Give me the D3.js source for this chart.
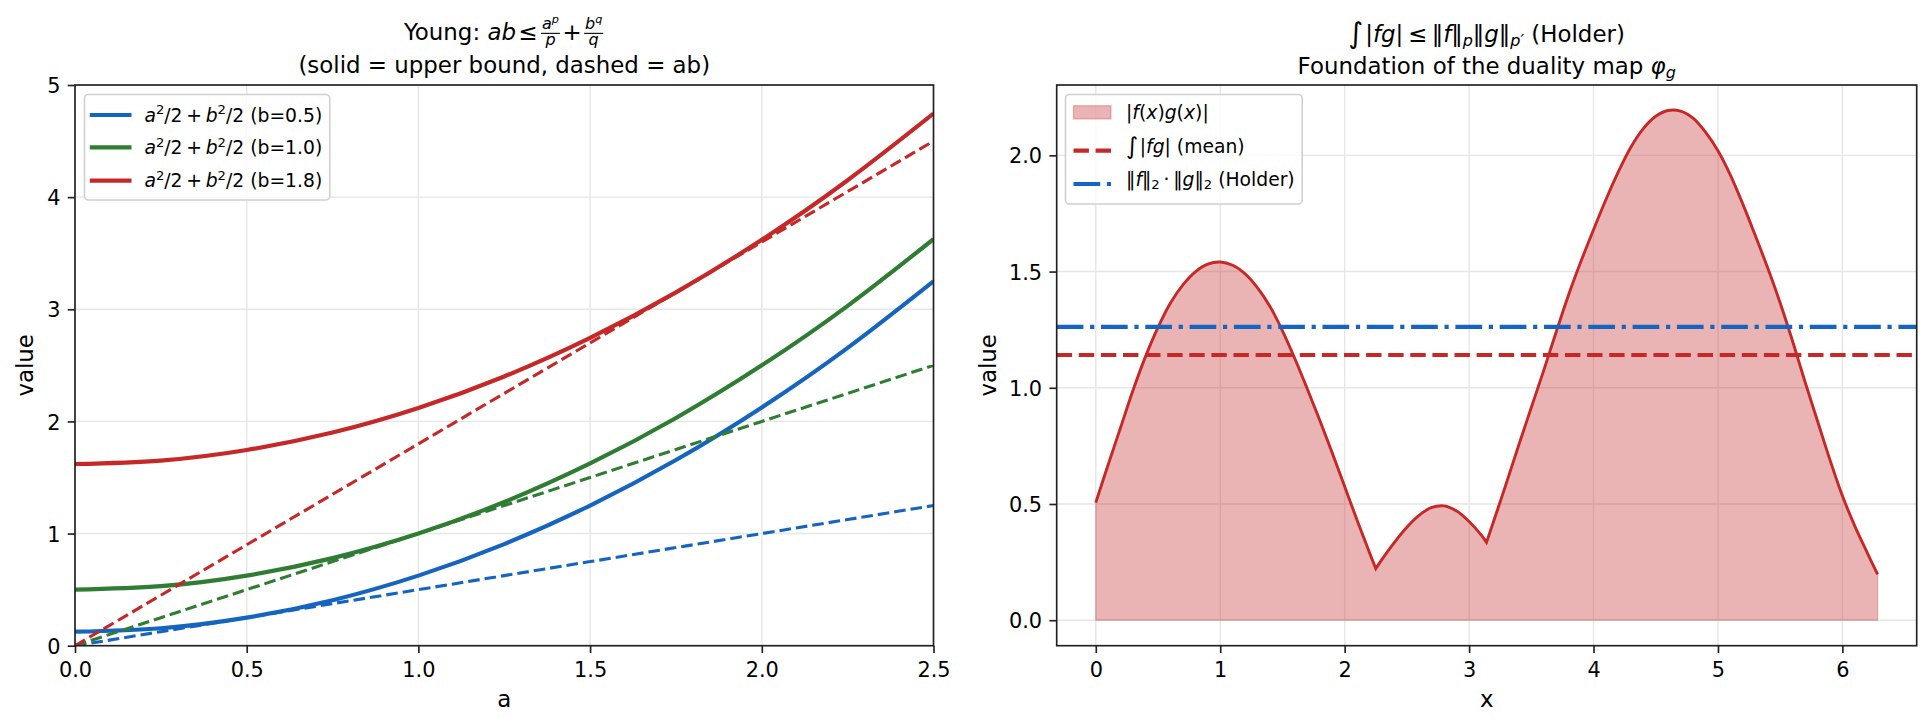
<!DOCTYPE html>
<html>
<head>
<meta charset="utf-8">
<script src="https://cdn.jsdelivr.net/npm/d3@7"></script>
<style>
  body { margin: 0; background: #fff; }
  svg { font-family: "DejaVu Sans", sans-serif; }
  svg text { white-space: pre; }
</style>
</head>
<body>
<svg id="chart"></svg>
<script>
// colors
const blue = '#1565c0';
const green = '#2e7d32';
const red = '#c62828';
const gridColor = '#e6e6e6';
const spineColor = '#222';

// ---- Young panel data ----
const aVals = [0, 0.25, 0.5, 0.75, 1.0, 1.25, 1.5, 1.75, 2.0, 2.25, 2.5];
const bLabels = ['0.5', '1.0', '1.8'];
const boundB05 = [0.125, 0.156, 0.25, 0.406, 0.625, 0.906, 1.25, 1.656, 2.125, 2.656, 3.25];
const boundB10 = [0.5, 0.531, 0.625, 0.781, 1.0, 1.281, 1.625, 2.031, 2.5, 3.031, 3.625];
const boundB18 = [1.62, 1.651, 1.745, 1.901, 2.12, 2.401, 2.745, 3.151, 3.62, 4.151, 4.745];
const abB05 = [0, 0.125, 0.25, 0.375, 0.5, 0.625, 0.75, 0.875, 1.0, 1.125, 1.25];
const abB10 = [0, 0.25, 0.5, 0.75, 1.0, 1.25, 1.5, 1.75, 2.0, 2.25, 2.5];
const abB18 = [0, 0.45, 0.9, 1.35, 1.8, 2.25, 2.7, 3.15, 3.6, 4.05, 4.5];
const youngXTicks = [0, 0.5, 1.0, 1.5, 2.0, 2.5];
const youngYTicks = [0, 1, 2, 3, 4, 5];

// ---- Holder panel data ----
const holderX = [0, 0.1, 0.2, 0.3, 0.4, 0.5, 0.6, 0.7, 0.8, 0.9, 1.0, 1.1, 1.2, 1.3, 1.4, 1.5,
  1.6, 1.7, 1.8, 1.9, 2.0, 2.1, 2.2, 2.25,
  2.3, 2.4, 2.5, 2.6, 2.7, 2.8, 2.9, 3.0, 3.1, 3.14,
  3.2, 3.3, 3.4, 3.5, 3.6, 3.7, 3.8, 3.9, 4.0, 4.1, 4.2, 4.3, 4.4, 4.5, 4.6, 4.7, 4.8, 4.9,
  5.0, 5.1, 5.2, 5.3, 5.4, 5.5, 5.6, 5.7, 5.8, 5.9, 6.0, 6.1, 6.2, 6.283];
const holderFG = [0.506, 0.67, 0.83, 0.99, 1.135, 1.26, 1.365, 1.443, 1.499, 1.532, 1.541, 1.527, 1.49, 1.43, 1.35, 1.245,
  1.125, 0.995, 0.86, 0.72, 0.575, 0.43, 0.29, 0.222,
  0.262, 0.335, 0.40, 0.452, 0.485, 0.492, 0.47, 0.425, 0.365, 0.335,
  0.43, 0.59, 0.755, 0.915, 1.075, 1.24, 1.40, 1.545, 1.68, 1.81, 1.93, 2.035, 2.115, 2.168, 2.193, 2.19, 2.16, 2.10,
  2.02, 1.915, 1.79, 1.655, 1.515, 1.365, 1.20, 1.025, 0.857, 0.69, 0.535, 0.405, 0.29, 0.197];
const holderCusps = [2.25, 3.14];
const meanFG = 1.141;
const holderBound = 1.262;
const holderXTicks = [0, 1, 2, 3, 4, 5, 6];
const holderYTicks = [0, 0.5, 1.0, 1.5, 2.0];

// sizes (150 dpi figure)
const titleFs = 22.9;
const tickFs = 20.83;
const legFs = 18.75;

const width = 1931;
const height = 728;
const svg = d3.select('#chart').attr('width', width).attr('height', height);

const boxL = { x0: 75, x1: 933.5, y0: 85, y1: 645.7 };
const boxR = { x0: 1056.7, x1: 1916.7, y0: 85, y1: 645.7 };

// ---- small math-text helpers ----
function layout(g, x, y, items, fs) {
  let cx = x;
  for (const it of items) {
    if (it.gap != null) { cx += it.gap * fs; continue; }
    if (it.frac) { cx = fracBox(g, cx, y, it.frac[0], it.frac[1], fs); continue; }
    const t = g.append('text')
      .attr('x', cx).attr('y', y + (it.dy || 0) * fs)
      .attr('font-size', fs * (it.s || 1))
      .attr('fill', '#000')
      .text(it.t);
    if (it.i) t.attr('font-style', 'italic');
    cx += t.node().getComputedTextLength();
  }
  return cx;
}
function fracBox(g, x, y, num, den, fs) {
  const sub = fs * 0.7;
  const ng = g.append('g'), dg = g.append('g');
  const nw = layout(ng, 0, 0, num, sub);
  const dw = layout(dg, 0, 0, den, sub);
  const w = Math.max(nw, dw) + 0.2 * fs;
  ng.attr('transform', `translate(${x + (w - nw) / 2},${y - 0.46 * fs})`);
  dg.attr('transform', `translate(${x + (w - dw) / 2},${y + 0.24 * fs})`);
  g.append('line')
    .attr('x1', x + 0.06 * fs).attr('x2', x + w - 0.06 * fs)
    .attr('y1', y - 0.29 * fs).attr('y2', y - 0.29 * fs)
    .attr('stroke', '#000').attr('stroke-width', 1.1);
  return x + w;
}
function mathCentered(cx, y, items, fs) {
  const g = svg.append('g');
  const end = layout(g, 0, y, items, fs);
  g.attr('transform', `translate(${cx - end / 2},0)`);
}

// ---- axes helper ----
function grid(box, x, y, xt, yt) {
  const g = svg.append('g');
  g.selectAll('.gx').data(xt).join('line')
    .attr('x1', d => x(d)).attr('x2', d => x(d))
    .attr('y1', box.y0).attr('y2', box.y1)
    .attr('stroke', gridColor).attr('stroke-width', 1.4);
  g.selectAll('.gy').data(yt).join('line')
    .attr('x1', box.x0).attr('x2', box.x1)
    .attr('y1', d => y(d)).attr('y2', d => y(d))
    .attr('stroke', gridColor).attr('stroke-width', 1.4);
}
function axes(box, x, y, xt, yt, xf, yf) {
  const gx = svg.append('g')
    .attr('transform', `translate(0,${box.y1})`)
    .call(d3.axisBottom(x).tickValues(xt).tickFormat(xf).tickSize(7.3).tickPadding(9.2));
  const gy = svg.append('g')
    .attr('transform', `translate(${box.x0},0)`)
    .call(d3.axisLeft(y).tickValues(yt).tickFormat(yf).tickSize(7.3).tickPadding(7.3));
  [gx, gy].forEach(g => {
    g.select('.domain').remove();
    g.attr('font-family', null).attr('font-size', null);
    g.selectAll('line').attr('stroke', spineColor).attr('stroke-width', 1.67);
    g.selectAll('text').attr('font-size', tickFs).attr('fill', '#000');
  });
  gy.selectAll('text').attr('dy', '0.365em');
  svg.append('rect')
    .attr('x', box.x0).attr('y', box.y0)
    .attr('width', box.x1 - box.x0).attr('height', box.y1 - box.y0)
    .attr('fill', 'none').attr('stroke', spineColor).attr('stroke-width', 1.67);
}

// =================== Left: Young ===================
const xL = d3.scaleLinear().domain([0, 2.5]).range([boxL.x0, boxL.x1]);
const yL = d3.scaleLinear().domain([0, 5]).range([boxL.y1, boxL.y0]);

grid(boxL, xL, yL, youngXTicks, youngYTicks);

svg.append('clipPath').attr('id', 'clipL').append('rect')
  .attr('x', boxL.x0).attr('y', boxL.y0)
  .attr('width', boxL.x1 - boxL.x0).attr('height', boxL.y1 - boxL.y0);

const lineL = d3.line().x(d => xL(d[0])).y(d => yL(d[1])).curve(d3.curveNatural);
const youngSeries = [
  { bound: boundB05, ab: abB05, color: blue },
  { bound: boundB10, ab: abB10, color: green },
  { bound: boundB18, ab: abB18, color: red }
];
const gL = svg.append('g').attr('clip-path', 'url(#clipL)');
youngSeries.forEach(s => {
  gL.append('path')
    .attr('d', lineL(aVals.map((a, i) => [a, s.bound[i]])))
    .attr('fill', 'none').attr('stroke', s.color).attr('stroke-width', 4.17);
  gL.append('path')
    .attr('d', lineL(aVals.map((a, i) => [a, s.ab[i]])))
    .attr('fill', 'none').attr('stroke', s.color).attr('stroke-width', 3.1)
    .attr('stroke-dasharray', '11.6,5');
});

axes(boxL, xL, yL, youngXTicks, youngYTicks, d3.format('.1f'), d3.format('d'));

// labels
svg.append('text').attr('x', (boxL.x0 + boxL.x1) / 2).attr('y', 707)
  .attr('text-anchor', 'middle').attr('font-size', titleFs).text('a');
svg.append('text').attr('transform', `translate(33.3,${(boxL.y0 + boxL.y1) / 2}) rotate(-90)`)
  .attr('text-anchor', 'middle').attr('font-size', titleFs).text('value');

mathCentered((boxL.x0 + boxL.x1) / 2, 40, [
  { t: 'Young: ' }, { t: 'ab', i: 1 }, { gap: 0.1 }, { t: '≤' }, { gap: 0.1 },
  { frac: [[{ t: 'a', i: 1 }, { t: 'p', i: 1, s: 0.7, dy: -0.42 }], [{ t: 'p', i: 1 }]] },
  { gap: 0.05 }, { t: '+' }, { gap: 0.05 },
  { frac: [[{ t: 'b', i: 1 }, { t: 'q', i: 1, s: 0.7, dy: -0.42 }], [{ t: 'q', i: 1 }]] }
], titleFs);
mathCentered((boxL.x0 + boxL.x1) / 2, 72.5, [{ t: '(solid = upper bound, dashed = ab)' }], titleFs);

// legend (left)
{
  const g = svg.append('g');
  const frame = g.append('rect');
  const rowY = [115, 147.3, 180.7];
  let maxEnd = 0;
  youngSeries.forEach((s, i) => {
    g.append('line').attr('x1', 91.9).attr('x2', 129.4)
      .attr('y1', rowY[i]).attr('y2', rowY[i])
      .attr('stroke', s.color).attr('stroke-width', 4.17).attr('stroke-linecap', 'square');
    const end = layout(g, 144.4, rowY[i] + 6.6, [
      { t: 'a', i: 1 }, { t: '2', s: 0.7, dy: -0.38 }, { t: '/2' }, { gap: 0.2 }, { t: '+' }, { gap: 0.2 },
      { t: 'b', i: 1 }, { t: '2', s: 0.7, dy: -0.38 }, { t: '/2' }, { t: ` (b=${bLabels[i]})` }
    ], legFs);
    maxEnd = Math.max(maxEnd, end);
  });
  frame.attr('x', 84.5).attr('y', 94.5).attr('width', maxEnd + 7.5 - 84.5).attr('height', 105.5)
    .attr('rx', 4).attr('fill', '#fff').attr('fill-opacity', 0.8)
    .attr('stroke', '#d0d0d0').attr('stroke-width', 1.6);
}

// =================== Right: Holder ===================
const xPad = 0.05 * (d3.max(holderX) - d3.min(holderX));
const yMax = d3.max(holderFG);
const xR = d3.scaleLinear().domain([d3.min(holderX) - xPad, d3.max(holderX) + xPad]).range([boxR.x0, boxR.x1]);
const yR = d3.scaleLinear().domain([-0.05 * yMax, 1.05 * yMax]).range([boxR.y1, boxR.y0]);

grid(boxR, xR, yR, holderXTicks, holderYTicks);

// split at the kinks so the cusps stay sharp
const pts = holderX.map((x, i) => [x, holderFG[i]]);
const segs = [];
let cur = [];
pts.forEach(p => {
  cur.push(p);
  if (holderCusps.includes(p[0])) { segs.push(cur); cur = [p]; }
});
segs.push(cur);
const lineR = d3.line().x(d => xR(d[0])).y(d => yR(d[1])).curve(d3.curveCatmullRom.alpha(0.5));
const topPath = segs.map((s, i) => i ? lineR(s).replace(/^M/, 'L') : lineR(s)).join('');
const first = pts[0], last = pts[pts.length - 1];

svg.append('path')
  .attr('d', topPath + `L${xR(last[0])},${yR(0)}L${xR(first[0])},${yR(0)}Z`)
  .attr('fill', red).attr('fill-opacity', 0.35)
  .attr('stroke', red).attr('stroke-opacity', 0.3).attr('stroke-width', 1.2);
svg.append('path').attr('d', topPath)
  .attr('fill', 'none').attr('stroke', red).attr('stroke-width', 2.9);

svg.append('line').attr('x1', boxR.x0).attr('x2', boxR.x1)
  .attr('y1', yR(meanFG)).attr('y2', yR(meanFG))
  .attr('stroke', red).attr('stroke-width', 4.17).attr('stroke-dasharray', '15.4,6.7');
svg.append('line').attr('x1', boxR.x0).attr('x2', boxR.x1)
  .attr('y1', yR(holderBound)).attr('y2', yR(holderBound))
  .attr('stroke', blue).attr('stroke-width', 4.17).attr('stroke-dasharray', '26.7,6.7,4.2,6.7');

axes(boxR, xR, yR, holderXTicks, holderYTicks, d3.format('d'), d3.format('.1f'));

svg.append('text').attr('x', (boxR.x0 + boxR.x1) / 2).attr('y', 707)
  .attr('text-anchor', 'middle').attr('font-size', titleFs).text('x');
svg.append('text').attr('transform', `translate(995.5,${(boxR.y0 + boxR.y1) / 2}) rotate(-90)`)
  .attr('text-anchor', 'middle').attr('font-size', titleFs).text('value');

mathCentered((boxR.x0 + boxR.x1) / 2, 41.5, [
  { t: '∫', s: 1.25, dy: 0.06 }, { gap: 0.08 }, { t: '|' }, { t: 'fg', i: 1 }, { t: '|' }, { gap: 0.2 }, { t: '≤' }, { gap: 0.2 },
  { t: '‖' }, { t: 'f', i: 1 }, { t: '‖' }, { t: 'p', i: 1, s: 0.7, dy: 0.18 },
  { t: '‖' }, { t: 'g', i: 1 }, { t: '‖' }, { t: 'p′', i: 1, s: 0.7, dy: 0.18 },
  { t: ' (Holder)' }
], titleFs);
mathCentered((boxR.x0 + boxR.x1) / 2, 73.5, [
  { t: 'Foundation of the duality map ' }, { t: 'φ', i: 1 }, { t: 'g', i: 1, s: 0.7, dy: 0.18 }
], titleFs);

// legend (right)
{
  const g = svg.append('g');
  const frame = g.append('rect');
  const hx0 = 1073.5, hx1 = 1111, tx = 1126;
  g.append('rect').attr('x', hx0).attr('y', 105.7).attr('width', hx1 - hx0).attr('height', 13.3)
    .attr('fill', red).attr('fill-opacity', 0.35)
    .attr('stroke', red).attr('stroke-opacity', 0.3).attr('stroke-width', 1.2);
  g.append('line').attr('x1', hx0).attr('x2', hx1).attr('y1', 150.7).attr('y2', 150.7)
    .attr('stroke', red).attr('stroke-width', 4.17).attr('stroke-dasharray', '15.4,6.7');
  g.append('line').attr('x1', hx0).attr('x2', hx1).attr('y1', 184).attr('y2', 184)
    .attr('stroke', blue).attr('stroke-width', 4.17).attr('stroke-dasharray', '26.7,6.7,4.2,6.7');
  const e1 = layout(g, tx, 118.5, [
    { t: '|' }, { t: 'f', i: 1 }, { t: '(' }, { t: 'x', i: 1 }, { t: ')' },
    { t: 'g', i: 1 }, { t: '(' }, { t: 'x', i: 1 }, { t: ')' }, { t: '|' }
  ], legFs);
  const e2 = layout(g, tx, 153.3, [
    { t: '∫', s: 1.25, dy: 0.06 }, { gap: 0.08 }, { t: '|' }, { t: 'fg', i: 1 }, { t: '|' }, { t: ' (mean)' }
  ], legFs);
  const e3 = layout(g, tx, 186, [
    { t: '‖' }, { t: 'f', i: 1 }, { t: '‖' }, { t: '2', s: 0.7, dy: 0.18 }, { gap: 0.2 }, { t: '·' }, { gap: 0.2 },
    { t: '‖' }, { t: 'g', i: 1 }, { t: '‖' }, { t: '2', s: 0.7, dy: 0.18 }, { t: ' (Holder)' }
  ], legFs);
  const end = Math.max(e1, e2, e3);
  frame.attr('x', 1065.5).attr('y', 94.5).attr('width', end + 7.5 - 1065.5).attr('height', 109.5)
    .attr('rx', 4).attr('fill', '#fff').attr('fill-opacity', 0.8)
    .attr('stroke', '#d0d0d0').attr('stroke-width', 1.6);
}
</script>
</body>
</html>
